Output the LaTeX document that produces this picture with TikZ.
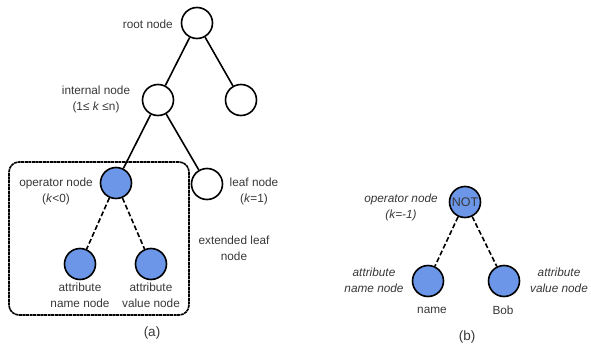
\documentclass[tikz,border=0pt]{standalone}
\usepackage{fontspec}
\setmainfont{Liberation Sans}
\definecolor{nodeblue}{RGB}{108,150,232}
\definecolor{txt}{RGB}{55,55,55}
\begin{document}
\begin{tikzpicture}[x=1pt,y=-1pt,
  nd/.style={circle,draw,line width=1.6pt,minimum size=31pt,inner sep=0pt},
  bl/.style={nd,fill=nodeblue},
  lbl/.style={font=\fontsize{11.8}{16}\selectfont,align=center,text=txt,inner sep=0pt},
  ilbl/.style={lbl,font=\fontsize{11.8}{16}\selectfont\itshape},
  edge/.style={line width=1.6pt},
  dedge/.style={line width=1.6pt,dash pattern=on 5pt off 2.5pt},
  boxstyle/.style={draw,line width=1.6pt,dash pattern=on 3pt off 0.6pt,rounded corners=10pt}]
\useasboundingbox (0,0) rectangle (591,345);
% (a)
\node[nd] (root) at (197,23) {};
\node[nd] (int) at (158,100) {};
\node[nd] (rc) at (241,100) {};
\node[bl] (op) at (116,183) {};
\node[nd] (leaf) at (207,184) {};
\node[bl] (an) at (80,264) {};
\node[bl] (av) at (151,264) {};
\draw[edge] (root) -- (int);
\draw[edge] (root) -- (rc);
\draw[edge] (int) -- (op);
\draw[edge] (int) -- (leaf);
\draw[dedge] (op) -- (an);
\draw[dedge] (op) -- (av);
\node[boxstyle,minimum width=180pt,minimum height=153pt] (box) at (99,238.5) {};
\node[lbl,anchor=east] (lroot) at (173,24) {root node};
\node[lbl] (lint) at (96,99) {internal node\\(1≤ \textit{k} ≤n)};
\node[lbl] (lop) at (56,191) {operator node\\(\textit{k}<0)};
\node[lbl] (lleaf) at (254,191) {leaf node\\(\textit{k}=1)};
\node[lbl] (lext) at (234,248) {extended leaf\\node};
\node[lbl] (lan) at (80,295) {attribute\\name node};
\node[lbl] (lav) at (151,295) {attribute\\value node};
\node[lbl,font=\fontsize{13.5}{16}\selectfont] (capa) at (152,333) {(a)};
% (b)
\node[bl,font=\fontsize{12.5}{16}\selectfont,text=txt] (not) at (465,202) {NOT};
\node[bl] (bn) at (428,281) {};
\node[bl] (bb) at (504,281) {};
\draw[dedge] (not) -- (bn);
\draw[dedge] (not) -- (bb);
\node[ilbl] (lnot) at (401,207) {operator node\\(\textit{k}=-1)};
\node[ilbl] (lbn) at (374,280) {attribute\\name node};
\node[ilbl] (lbb) at (559,280) {attribute\\value node};
\node[lbl] (tname) at (432,310) {name};
\node[lbl] (tbob) at (503,310) {Bob};
\node[lbl,font=\fontsize{13.5}{16}\selectfont] (capb) at (467,337) {(b)};
\end{tikzpicture}
\end{document}
